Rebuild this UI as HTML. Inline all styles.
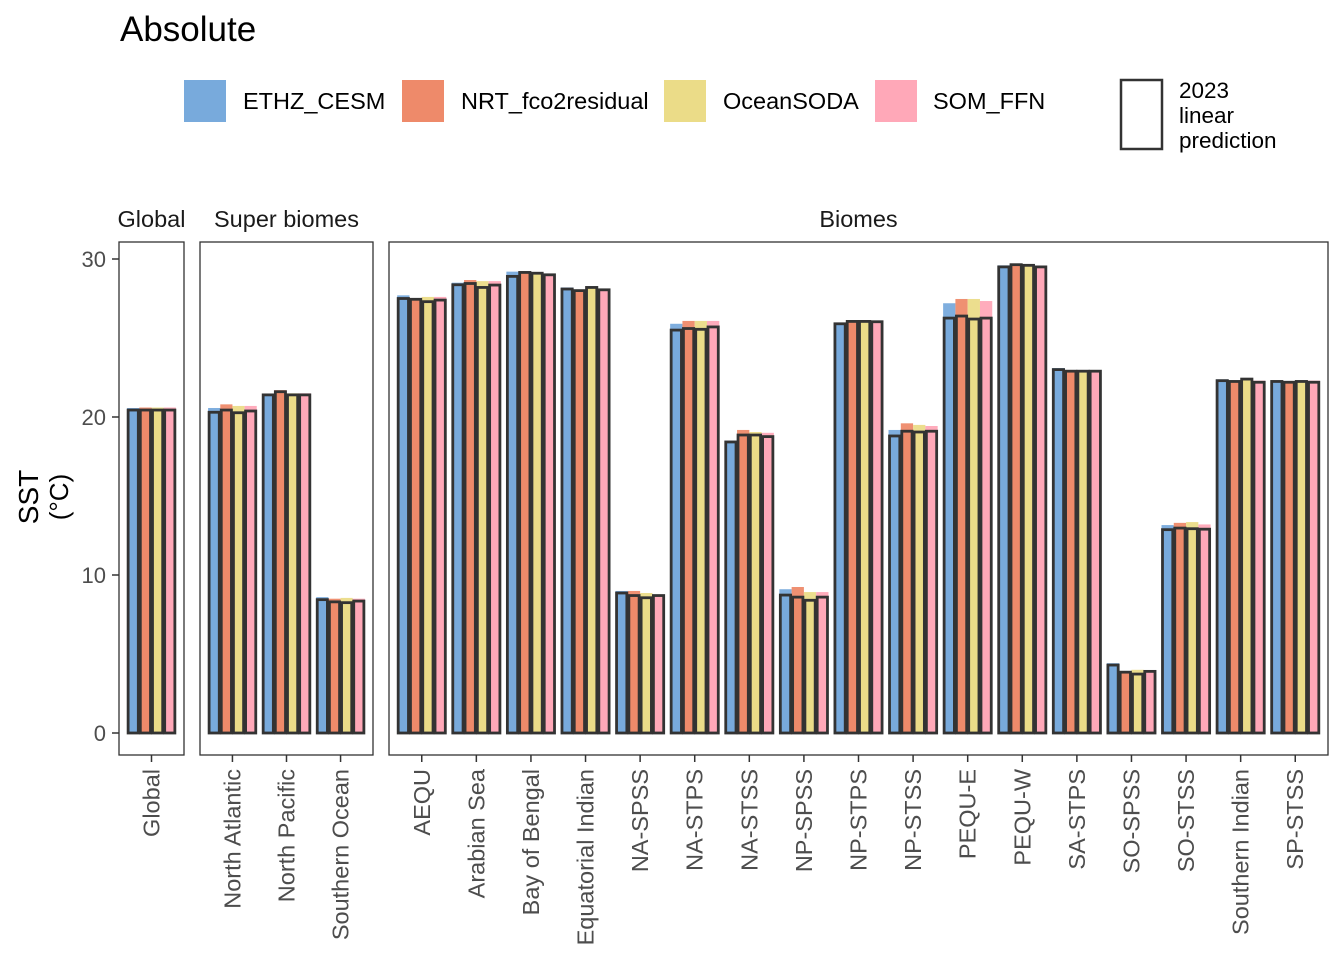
<!DOCTYPE html>
<html><head><meta charset="utf-8">
<style>
html,body{margin:0;padding:0;background:#fff;}
svg{display:block;font-family:"Liberation Sans",Arial,sans-serif;}
</style></head>
<body>
<svg id="chart" width="1344" height="960" viewBox="0 0 1344 960">
<text x="120" y="41" font-size="35" fill="#000">Absolute</text>
<g>
  <rect x="184" y="80" width="42" height="42" fill="#78AADC"/>
  <text x="243" y="109" font-size="23.5">ETHZ_CESM</text>
  <rect x="402" y="80" width="42" height="42" fill="#EE8A6A"/>
  <text x="461" y="109" font-size="23.5">NRT_fco2residual</text>
  <rect x="664" y="80" width="42" height="42" fill="#EBDC88"/>
  <text x="723" y="109" font-size="23.5">OceanSODA</text>
  <rect x="875" y="80" width="42" height="42" fill="#FFA8B8"/>
  <text x="933" y="109" font-size="23.5">SOM_FFN</text>
  <rect x="1121" y="80" width="41" height="69" fill="none" stroke="#333" stroke-width="2.5"/>
  <text x="1179" y="98" font-size="22.5"><tspan x="1179">2023</tspan><tspan x="1179" dy="25">linear</tspan><tspan x="1179" dy="25">prediction</tspan></text>
</g>
<g id="plot"></g>
</svg>
<script>
const colors=["#78AADC","#EE8A6A","#EBDC88","#FFA8B8"];
const seriesNames=["ETHZ_CESM","NRT_fco2residual","OceanSODA","SOM_FFN"];
const panels=["Global","Super biomes","Biomes"];
const categories=[["Global"],["North Atlantic","North Pacific","Southern Ocean"],
["AEQU","Arabian Sea","Bay of Bengal","Equatorial Indian","NA-SPSS","NA-STPS","NA-STSS","NP-SPSS","NP-STPS","NP-STSS","PEQU-E","PEQU-W","SA-STPS","SO-SPSS","SO-STSS","Southern Indian","SP-STSS"]];
const ethzActual=[20.57,20.57,21.4,8.6,27.7,28.5,29.2,28.2,8.99,25.9,18.5,9.1,25.95,19.18,27.2,29.6,23.1,4.42,13.16,22.38,22.3];
const nrtActual=[20.6,20.8,21.7,8.5,27.47,28.67,29.2,28.05,8.99,26.08,19.18,9.24,26.1,19.6,27.47,29.7,22.97,3.92,13.3,22.3,22.25];
const sodaActual=[20.6,20.7,21.5,8.55,27.6,28.6,29.15,28.25,8.86,26.08,19.05,8.92,26.1,19.5,27.47,29.65,22.97,4.0,13.35,22.45,22.3];
const somActual=[20.6,20.7,21.5,8.5,27.6,28.6,29.05,28.1,8.73,26.08,19.0,8.92,26.05,19.43,27.34,29.55,22.97,3.95,13.2,22.3,22.3];
const ethzPred=[20.44,20.3,21.4,8.44,27.5,28.37,28.9,28.1,8.86,25.5,18.42,8.73,25.9,18.8,26.26,29.5,23.0,4.3,12.87,22.3,22.25];
const nrtPred=[20.44,20.44,21.6,8.3,27.45,28.45,29.15,28.0,8.7,25.6,18.86,8.6,26.05,19.1,26.39,29.64,22.9,3.85,12.97,22.25,22.2];
const sodaPred=[20.44,20.27,21.4,8.25,27.3,28.2,29.1,28.2,8.56,25.55,18.86,8.4,26.05,19.05,26.2,29.6,22.9,3.73,12.93,22.4,22.25];
const somPred=[20.44,20.38,21.4,8.35,27.4,28.35,29.0,28.05,8.7,25.7,18.76,8.6,26.03,19.1,26.26,29.5,22.9,3.9,12.9,22.2,22.2];
const yTicks=[0,10,20,30];

const actual=[ethzActual,nrtActual,sodaActual,somActual];
const pred=[ethzPred,nrtPred,sodaPred,somPred];
const NS="http://www.w3.org/2000/svg";
const plotG=document.getElementById("plot");
function mk(tag,attrs,parent){const e=document.createElementNS(NS,tag);for(const k in attrs)e.setAttribute(k,attrs[k]);(parent||plotG).appendChild(e);return e;}
const yZero=733,pxPer=(733-259)/30;
const yScale=v=>yZero-v*pxPer;
const panelBox=[[119,184],[200,373],[389,1328]];
const panelTop=242,panelBot=755;

yTicks.forEach(t=>{
  const l=mk("line",{x1:112,x2:119,y1:yScale(t),y2:yScale(t),stroke:"#333","stroke-width":1.5});
  
  
  const tx=mk("text",{x:106,y:yScale(t)+8,"text-anchor":"end","font-size":22,fill:"#4d4d4d"});
  tx.textContent=t;
  
  
});
const yt=mk("text",{transform:"translate(38,497) rotate(-90)","text-anchor":"middle","font-size":28,fill:"#000"});


yt.innerHTML='<tspan x="0" dy="0">SST</tspan><tspan x="0" dy="30" font-size="26">(°C)</tspan>';

let idx=0;
panels.forEach((p,pi)=>{
  const x0=panelBox[pi][0],x1=panelBox[pi][1];
  const cats=categories[pi];
  const unit=(x1-x0)/(cats.length+0.2);
  const st=mk("text",{x:(x0+x1)/2,y:227,"text-anchor":"middle","font-size":23.5,fill:"#1a1a1a"});
  st.textContent=p;
  
  
  const pg=mk("g",{});
  
  
  const gw=unit*0.9,bw=gw/4;
  cats.forEach((c,ci)=>{
    const cx=x0+unit*(0.6+ci);
    const grp=mk("g",{},pg);
    
    
    for(let s=0;s<4;s++){
      const bx=cx-gw/2+s*bw;
      const a=actual[s][idx];
      const r=mk("rect",{x:bx,y:yScale(a),width:bw,height:yZero-yScale(a),fill:colors[s],"fill-opacity":0.95},grp);
      
      
    }
    for(let s=0;s<4;s++){
      const bx=cx-gw/2+s*bw;
      const v=pred[s][idx];
      const r=mk("rect",{x:bx+1,y:yScale(v),width:bw-2,height:yZero-yScale(v),fill:colors[s],stroke:"#333","stroke-width":2.8},grp);
      
      
    }
    const tk=mk("line",{x1:cx,x2:cx,y1:panelBot,y2:panelBot+7,stroke:"#333","stroke-width":1.5});
    
    
    const lb=mk("text",{transform:"translate("+(cx+8)+",769) rotate(-90)","text-anchor":"end","font-size":23.5,fill:"#4d4d4d"});
    lb.textContent=c;
    
    
    idx++;
  });
  const fr=mk("rect",{x:x0,y:panelTop,width:x1-x0,height:panelBot-panelTop,fill:"none",stroke:"#333","stroke-width":1.3});
  
  
});
</script>
</body></html>
